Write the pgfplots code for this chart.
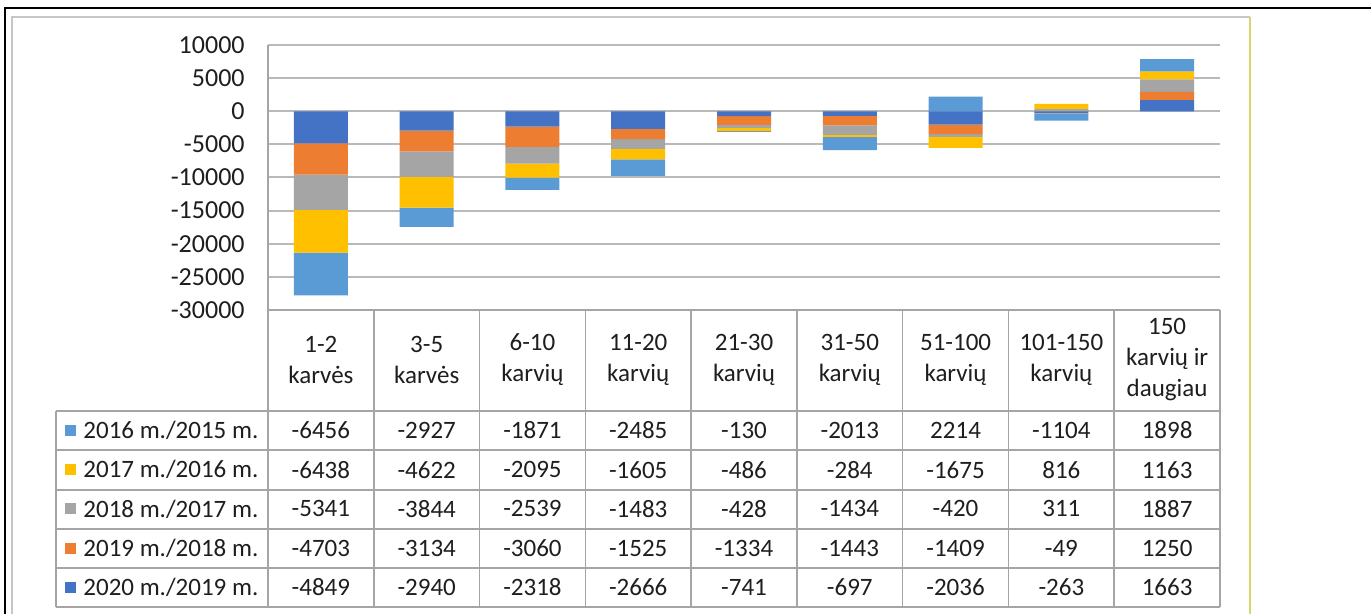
\documentclass[border=0pt]{standalone}
\usepackage{fontspec}
\setmainfont{Carlito}
\usepackage{pgfplots}
\pgfplotsset{compat=1.18}
\usepackage{pgfplotstable}

\definecolor{c16}{HTML}{5B9BD5}
\definecolor{c17}{HTML}{FFC000}
\definecolor{c18}{HTML}{A5A5A5}
\definecolor{c19}{HTML}{ED7D31}
\definecolor{c20}{HTML}{4472C4}
\definecolor{gridc}{RGB}{185,185,185}
\definecolor{tabc}{RGB}{165,165,165}
\definecolor{txt}{RGB}{30,30,30}
\definecolor{yel}{RGB}{215,215,110}

\pgfplotstableread{
x y16 y17 y18 y19 y20
0 -6456 -6438 -5341 -4703 -4849
1 -2927 -4622 -3844 -3134 -2940
2 -1871 -2095 -2539 -3060 -2318
3 -2485 -1605 -1483 -1525 -2666
4 -130 -486 -428 -1334 -741
5 -2013 -284 -1434 -1443 -697
6 2214 -1675 -420 -1409 -2036
7 -1104 816 311 -49 -263
8 1898 1163 1887 1250 1663
}\data

\begin{document}
\begin{tikzpicture}
\useasboundingbox (0,0) rectangle (685.5pt,-307pt);
\fill[white] (0,0) rectangle (685.5pt,-307pt);
\begin{scope}[x=0.5pt,y=-0.5pt]
  % page border
  \draw[black, line width=1.3pt] (5,620) -- (5,8) -- (1375,8);
  % chart frame
  \draw[gray!45, line width=0.9pt] (12,620) -- (12,17) -- (1250,17);
  \draw[yel, line width=0.9pt] (1250,17) -- (1250,620);
\end{scope}
\begin{axis}[
  at={(134pt,-155pt)}, anchor=south west,
  scale only axis, width=476pt, height=132.5pt,
  xmin=-0.5, xmax=8.5, ymin=-30000, ymax=10000,
  ytick={-30000,-25000,...,10000}, xtick=\empty,
  scaled y ticks=false,
  ymajorgrids, grid style={gridc, line width=1pt},
  axis line style={draw=none}, ytick style={draw=none},
  ybar stacked, stack negative=separate,
  bar width=27pt,
  /pgf/number format/.cd, 1000 sep={}, fixed, assume math mode=true,
  /pgfplots/.cd,
  yticklabel style={anchor=east, inner sep=0pt, xshift=-11.5pt, font=\fontsize{13}{15}\selectfont, text=txt},
  clip=false,
]
\addplot[fill=c20, draw=none] table[x=x, y=y20] {\data};
\addplot[fill=c19, draw=none] table[x=x, y=y19] {\data};
\addplot[fill=c18, draw=none] table[x=x, y=y18] {\data};
\addplot[fill=c17, draw=none] table[x=x, y=y17] {\data};
\addplot[fill=c16, draw=none] table[x=x, y=y16] {\data};
\end{axis}
\begin{scope}[x=0.5pt,y=-0.5pt, every node/.style={font=\fontsize{12.5}{15.5}\selectfont, text=txt, inner sep=0pt}]
  % table grid
  \draw[tabc, line width=0.8pt] (268,45) -- (268,607);
  \foreach \k in {1,...,9} \draw[tabc, line width=0.8pt] ({268+\k*105.78},310) -- ({268+\k*105.78},607);
  \draw[tabc, line width=0.8pt] (268,310) -- (1220,310);
  \foreach \yy in {411,450,490,529,568,607} \draw[tabc, line width=0.8pt] (56,\yy) -- (1220,\yy);
  \draw[tabc, line width=0.8pt] (56,411) -- (56,607);
  % header
  \foreach \lab [count=\k from 0] in {{1-2\\karvės},{3-5\\karvės},{6-10\\karvių},{11-20\\karvių},{21-30\\karvių},{31-50\\karvių},{51-100\\karvių},{101-150\\karvių},{150\\karvių ir\\daugiau}}
    \node[align=center] at ({268+(\k+0.5)*105.78},360) {\lab};
  % rows
  \foreach \c/\lab/\vals [count=\i from 0] in {
      c16/{2016 m./2015 m.}/{-6456,-2927,-1871,-2485,-130,-2013,2214,-1104,1898},
      c17/{2017 m./2016 m.}/{-6438,-4622,-2095,-1605,-486,-284,-1675,816,1163},
      c18/{2018 m./2017 m.}/{-5341,-3844,-2539,-1483,-428,-1434,-420,311,1887},
      c19/{2019 m./2018 m.}/{-4703,-3134,-3060,-1525,-1334,-1443,-1409,-49,1250},
      c20/{2020 m./2019 m.}/{-4849,-2940,-2318,-2666,-741,-697,-2036,-263,1663}} {
    \fill[\c] (65,{430.5+\i*39.2-5.5}) rectangle (76,{430.5+\i*39.2+5.5});
    \node[anchor=west] at (83,{430.5+\i*39.2}) {\lab};
    \foreach \v [count=\k from 0] in \vals
      \node at ({268+(\k+0.5)*105.78},{430.5+\i*39.2}) {\v};
  }
\end{scope}
\end{tikzpicture}
\end{document}
